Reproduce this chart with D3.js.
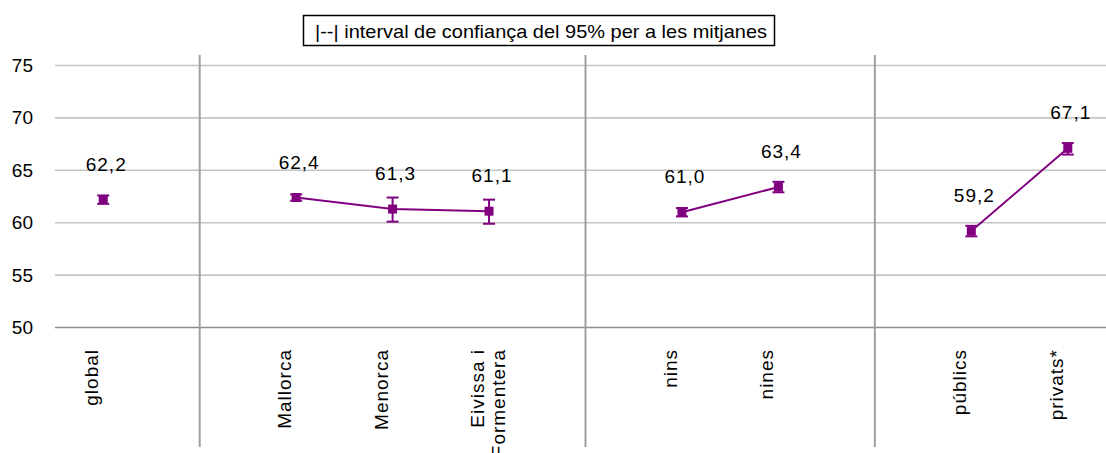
<!DOCTYPE html>
<html><head><meta charset="utf-8">
<script src="https://cdn.jsdelivr.net/npm/d3@7/dist/d3.min.js"></script>
<style>
html,body{margin:0;padding:0;background:#fff;overflow:hidden;}
text{font-family:"Liberation Sans",Arial,sans-serif;fill:#000;}
</style></head>
<body>
<svg id="chart" width="1106" height="453"></svg>
<script>
// ---- data ----
const categories = ["global", "Mallorca", "Menorca", "Eivissa i\nFormentera", "nins", "nines", "públics", "privats*"];
const groups     = [0, 1, 1, 1, 2, 2, 3, 3];
const means      = [62.2, 62.4, 61.3, 61.1, 61.0, 63.4, 59.2, 67.1];
const ciLow      = [61.8, 62.1, 60.1, 59.9, 60.6, 62.9, 58.7, 66.5];
const ciHigh     = [62.6, 62.7, 62.4, 62.2, 61.4, 63.9, 59.7, 67.6];
const yTicks     = [50, 55, 60, 65, 70, 75];
const legendText = "|--|  interval de confiança del 95% per a les mitjanes";

// ---- layout ----
const W = 1106, H = 453;
const plot = {left: 55, right: 1116, top: 65.5, bottom: 327.5};
const purple = "#800080";

const svg = d3.select("#chart");

// band slots: categories with a spacer slot between groups
const slots = [];
categories.forEach((c, i) => {
  if (i > 0 && groups[i] !== groups[i - 1]) slots.push("sep" + groups[i]);
  slots.push(c);
});
const x = d3.scaleBand().domain(slots).range([plot.left, plot.right]);
const cx = k => x(k) + x.bandwidth() / 2;
const y = d3.scaleLinear().domain([50, 75]).range([plot.bottom, plot.top]);

const fmt = d3.formatLocale({decimal: ",", thousands: ".", grouping: [3], currency: ["", "€"]}).format(".1f");

// gridlines
svg.append("g").selectAll("line").data(yTicks).join("line")
  .attr("x1", plot.left).attr("x2", W)
  .attr("y1", d => y(d)).attr("y2", d => y(d))
  .attr("stroke", d => d === 50 ? "#8c8c8c" : "#c4c4c4")
  .attr("stroke-width", 1.6);

// y axis labels
const yAxis = d3.axisLeft(y).tickValues(yTicks).tickSize(0).tickPadding(0).tickFormat(d3.format("d"));
const gy = svg.append("g").attr("transform", "translate(33,0)").call(yAxis);
gy.select(".domain").remove();
gy.selectAll("text").attr("font-size", 19).attr("font-family", "'Liberation Sans', Arial, sans-serif").attr("fill", "#000");

// group dividers
const seps = slots.filter(s => s.startsWith("sep"));
svg.append("g").selectAll("line").data(seps).join("line")
  .attr("x1", d => cx(d)).attr("x2", d => cx(d))
  .attr("y1", 55).attr("y2", 447)
  .attr("stroke", "#a0a0a0").attr("stroke-width", 2);

// x labels (rotated)
const xl = svg.append("g");
categories.forEach((c, i) => {
  const lines = c.split("\n");
  lines.forEach((ln, j) => {
    xl.append("text")
      .attr("transform", `translate(${cx(c) - 5 + j * 21},349) rotate(-90)`)
      .attr("text-anchor", "end")
      .attr("font-size", 19)
      .attr("letter-spacing", 1)
      .text(ln);
  });
});

// connecting lines within groups
const pts = categories.map((c, i) => ({c, g: groups[i], v: means[i], lo: ciLow[i], hi: ciHigh[i]}));
const byGroup = d3.groups(pts, d => d.g);
const line = d3.line().x(d => cx(d.c)).y(d => y(d.v));
svg.append("g").selectAll("path").data(byGroup.filter(g => g[1].length > 1)).join("path")
  .attr("d", g => line(g[1]))
  .attr("fill", "none").attr("stroke", purple).attr("stroke-width", 2);

// error bars
const eb = svg.append("g").attr("stroke", purple).attr("stroke-width", 2);
pts.forEach(d => {
  eb.append("line").attr("x1", cx(d.c)).attr("x2", cx(d.c)).attr("y1", y(d.lo)).attr("y2", y(d.hi));
  eb.append("line").attr("x1", cx(d.c) - 6).attr("x2", cx(d.c) + 6).attr("y1", y(d.lo)).attr("y2", y(d.lo));
  eb.append("line").attr("x1", cx(d.c) - 6).attr("x2", cx(d.c) + 6).attr("y1", y(d.hi)).attr("y2", y(d.hi));
});

// markers
svg.append("g").selectAll("rect").data(pts).join("rect")
  .attr("x", d => cx(d.c) - 4.5).attr("y", d => y(d.v) - 4.5)
  .attr("width", 9).attr("height", 9).attr("fill", purple);

// data labels
svg.append("g").selectAll("text").data(pts).join("text")
  .attr("x", d => cx(d.c) + 3).attr("y", d => y(d.v) - 29)
  .attr("text-anchor", "middle").attr("font-size", 19).attr("letter-spacing", 1)
  .text(d => fmt(d.v));

// legend box
const lg = svg.append("g");
lg.append("rect").attr("x", 303.5).attr("y", 15.5).attr("width", 471).attr("height", 30)
  .attr("fill", "#fff").attr("stroke", "#000").attr("stroke-width", 1.5);
lg.append("text").attr("x", 315).attr("y", 37.5).attr("font-size", 19)
  .attr("textLength", 452).attr("lengthAdjust", "spacingAndGlyphs")
  .text(legendText);
</script>
</body></html>
